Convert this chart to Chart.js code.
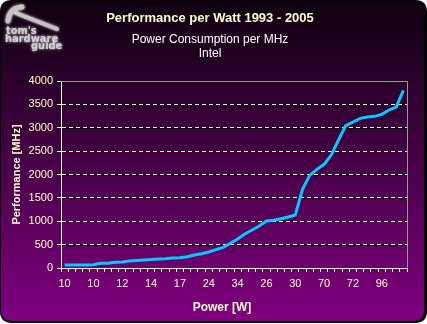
<!DOCTYPE html>
<html>
    <head>
        <meta charset="UTF-8" />
        <title> Performance per Watt </title>
        <style type="text/css">
            body { margin: 0; background: #ffffff; }
            .chartBox { width: 427px; height: 324px; }
        </style>
    </head>
    <body>
        <div class="chartBox">
            <canvas id="myChart" width="427" height="324"></canvas>
        </div>

        <script src="https://cdn.jsdelivr.net/npm/chart.js"></script>

        <script>
        //data
        const tickLabels = ['10', '10', '12', '14', '17', '24', '34', '26', '30', '70', '72', '96'];
        const labelStep = 4;
        const performance = [64, 64, 64, 64, 70, 100, 100, 121, 130, 150, 160, 171,
                             180, 193, 200, 215, 221, 240, 278, 306, 342, 392, 442, 528,
                             620, 727, 812, 898, 1005, 1020, 1055, 1090, 1133, 1682, 1980, 2110,
                             2217, 2417, 2738, 3044, 3123, 3201, 3230, 3244, 3287, 3380, 3443, 3800];
        const yTicks = [0, 500, 1000, 1500, 2000, 2500, 3000, 3500, 4000];
        const categories = performance.map((v, i) => i % labelStep ? '' : tickLabels[i / labelStep]);

        const cream = '#ffffcc';

        function roundRect(ctx, x, y, w, h, r) {
            ctx.beginPath();
            ctx.moveTo(x + r, y);
            ctx.lineTo(x + w - r, y);
            ctx.quadraticCurveTo(x + w, y, x + w, y + r);
            ctx.lineTo(x + w, y + h - r);
            ctx.quadraticCurveTo(x + w, y + h, x + w - r, y + h);
            ctx.lineTo(x + r, y + h);
            ctx.quadraticCurveTo(x, y + h, x, y + h - r);
            ctx.lineTo(x, y + r);
            ctx.quadraticCurveTo(x, y, x + r, y);
            ctx.closePath();
        }

        //background, panel, black lines under the dashed grid
        const panel = {
            id: 'panel',
            beforeDraw(chart) {
                const ctx = chart.ctx;
                const area = chart.chartArea;
                ctx.save();
                ctx.fillStyle = '#ffffff';
                ctx.fillRect(0, 0, chart.width, chart.height);
                ctx.fillStyle = '#000000';
                roundRect(ctx, 0, 0, 427, 323, 12);
                ctx.fill();
                const g = ctx.createLinearGradient(0, 0, 0, 324);
                g.addColorStop(0, '#0e000e');
                g.addColorStop(1, '#800080');
                ctx.fillStyle = g;
                roundRect(ctx, 1, 1, 423, 320, 11);
                ctx.fill();

                ctx.strokeStyle = '#000000';
                ctx.lineWidth = 1;
                yTicks.slice(1, -1).forEach(v => {
                    const py = Math.round(chart.scales.y.getPixelForValue(v)) + 0.5;
                    ctx.beginPath();
                    ctx.moveTo(area.left, py);
                    ctx.lineTo(area.right, py);
                    ctx.stroke();
                });
                ctx.restore();
            },
            beforeDatasetsDraw(chart) {
                const ctx = chart.ctx;
                const area = chart.chartArea;
                ctx.save();
                ctx.strokeStyle = '#9a9a9a';
                ctx.lineWidth = 1;
                ctx.beginPath();
                ctx.moveTo(area.left, Math.round(area.top) + 0.5);
                ctx.lineTo(Math.round(area.right) + 0.5, Math.round(area.top) + 0.5);
                ctx.lineTo(Math.round(area.right) + 0.5, area.bottom);
                ctx.stroke();
                ctx.restore();
            },
            afterDraw(chart) {
                const ctx = chart.ctx;
                ctx.save();
                ctx.textAlign = 'center';
                ctx.textBaseline = 'middle';
                ctx.fillStyle = cream;
                ctx.font = 'bold 13px "Liberation Sans", Arial, sans-serif';
                ctx.fillText('Performance per Watt 1993 - 2005', 210, 18);
                ctx.fillStyle = '#ffffff';
                ctx.font = '12px "Liberation Sans", Arial, sans-serif';
                ctx.fillText('Power Consumption per MHz', 210, 40);
                ctx.fillText('Intel', 210, 54);
                ctx.fillStyle = cream;
                ctx.font = 'bold 12px "Liberation Sans", Arial, sans-serif';
                ctx.fillText('Power [W]', 222, 308);

                // logo
                ctx.strokeStyle = '#c4c4c4';
                ctx.lineCap = 'round';
                ctx.shadowColor = '#ffffff';
                ctx.shadowBlur = 3;
                ctx.lineWidth = 4;
                ctx.beginPath();
                ctx.moveTo(16, 13);
                ctx.lineTo(57, 29);
                ctx.stroke();
                ctx.lineWidth = 5;
                ctx.beginPath();
                ctx.moveTo(8, 21);
                ctx.quadraticCurveTo(9, 8, 22, 7);
                ctx.stroke();
                ctx.fillStyle = '#d0d0d0';
                ctx.textAlign = 'left';
                ctx.textBaseline = 'alphabetic';
                ctx.font = 'bold 11px "DejaVu Sans Condensed", "Liberation Sans Narrow", sans-serif';
                ctx.fillText("tom's", 6, 34);
                ctx.fillText('hardware', 5, 42);
                ctx.fillText('guide', 31, 49);
                ctx.restore();
            }
        };

        //setup
        const data = {
            labels: categories,
            datasets: [{
                label: 'Intel',
                data: performance,
                borderColor: '#00ccff',
                borderWidth: 3,
                pointRadius: 0,
                tension: 0,
                fill: false
            }]
        };

        //config
        const config = {
            type: 'line',
            data,
            plugins: [panel],
            options: {
                responsive: false,
                animation: false,
                layout: {
                    padding: { top: 81, left: 0, right: 20, bottom: 0 }
                },
                plugins: {
                    legend: { display: false },
                    tooltip: { enabled: false }
                },
                scales: {
                    x: {
                        offset: true,
                        afterFit(scale) { scale.height = 56; },
                        grid: {
                            offset: true,
                            drawOnChartArea: false,
                            tickLength: 4,
                            color: cream
                        },
                        border: { color: cream, width: 1 },
                        ticks: {
                            autoSkip: false,
                            maxRotation: 0,
                            padding: 5,
                            color: cream,
                            font: { family: '"Liberation Sans", Arial, sans-serif', size: 11 },
                            callback: function(value) { return this.getLabelForValue(value); }
                        }
                    },
                    y: {
                        min: 0,
                        max: 4000,
                        afterFit(scale) { scale.width = 61; },
                        afterBuildTicks(scale) { scale.ticks = yTicks.map(v => ({ value: v })); },
                        grid: {
                            color: (c) => c.tick && (c.tick.value === 0 || c.tick.value === 4000) ? 'rgba(0,0,0,0)' : '#ffffff',
                            tickLength: 4,
                            tickColor: cream,
                            tickBorderDash: []
                        },
                        border: { color: cream, width: 1, dash: [4, 3] },
                        ticks: {
                            padding: 4,
                            color: cream,
                            font: { family: '"Liberation Sans", Arial, sans-serif', size: 11 },
                            callback: (value) => String(value)
                        },
                        title: {
                            display: true,
                            text: 'Performance [MHz]',
                            color: cream,
                            padding: { top: 10, bottom: 0 },
                            font: { family: '"Liberation Sans", Arial, sans-serif', size: 11, weight: 'bold' }
                        }
                    }
                }
            }
        };

        //render init
        const myChart = new Chart(
            document.getElementById('myChart'),
            config
        );
        </script>
    </body>
</html>
